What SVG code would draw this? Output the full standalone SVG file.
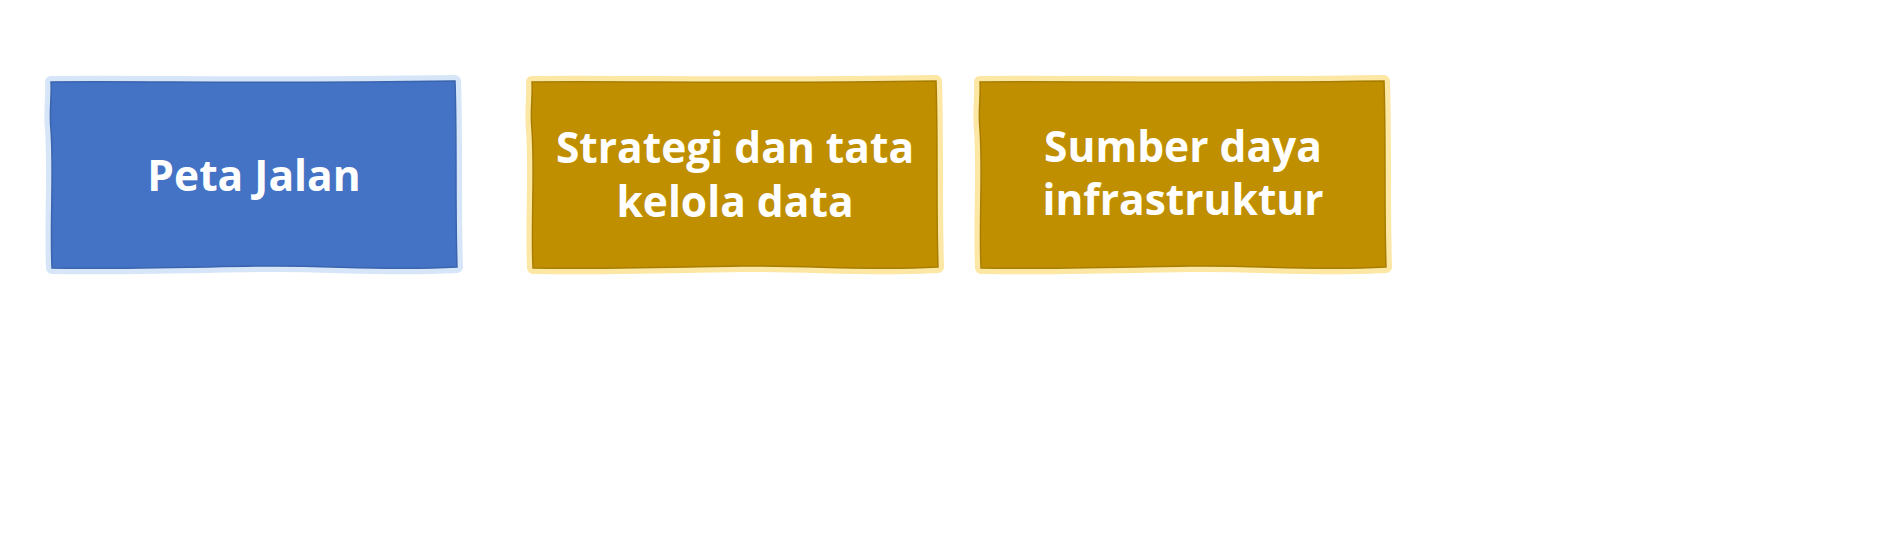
<svg xmlns="http://www.w3.org/2000/svg" xmlns:xlink="http://www.w3.org/1999/xlink" width="1899" height="560" viewBox="0 0 1899 560">
<style>
.halo-blue{fill:none;stroke:#d6e6f8;stroke-width:12;stroke-linejoin:round}
.halo-gold{fill:none;stroke:#fde7a4;stroke-width:12;stroke-linejoin:round}
.fill-blue{fill:#4472c4;stroke:#3b64ae;stroke-width:1.5}
.fill-gold{fill:#bf8f00;stroke:#a87e00;stroke-width:1.5}
.lbl{font-family:"Open Sans","Noto Sans","Liberation Sans",sans-serif;font-weight:700;font-size:42.5px;fill:#ffffff;text-anchor:middle}
</style>
<defs>
<path id="shape" d="M 0 0 C 100 -1, 200 2, 404 -1 C 406 60, 404 120, 406 185 C 330 189, 280 183, 210 184 C 140 185, 70 187, 1 186 C -1 140, 3 90, 0 48 C -2 30, 1 15, 0 0 Z"/>
</defs>
<rect width="1899" height="560" fill="#ffffff"/>
<g id="connectors"></g>
<g id="node-peta-jalan">
<use xlink:href="#shape" class="halo-blue" transform="translate(51,82)"/>
<use xlink:href="#shape" class="fill-blue" transform="translate(51,82)"/>
<text class="lbl" x="254" y="191">Peta Jalan</text>
</g>
<g id="node-strategi">
<use xlink:href="#shape" class="halo-gold" transform="translate(532,82)"/>
<use xlink:href="#shape" class="fill-gold" transform="translate(532,82)"/>
<text class="lbl" x="735" y="163">Strategi dan tata</text>
<text class="lbl" x="735" y="217">kelola data</text>
</g>
<g id="node-sumber-daya">
<use xlink:href="#shape" class="halo-gold" transform="translate(980,82)"/>
<use xlink:href="#shape" class="fill-gold" transform="translate(980,82)"/>
<text class="lbl" x="1183" y="162">Sumber daya</text>
<text class="lbl" x="1183" y="215">infrastruktur</text>
</g>
</svg>
